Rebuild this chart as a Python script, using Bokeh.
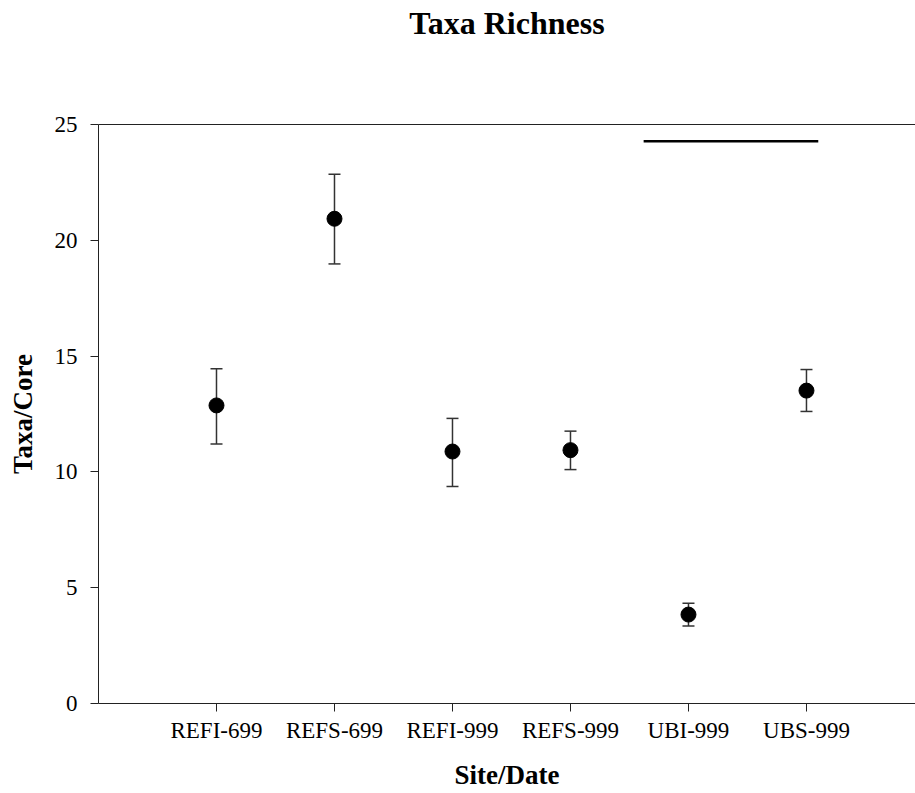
from bokeh.plotting import figure
from bokeh.models import (FixedTicker, LinearAxis, Whisker, TeeHead,
                          ColumnDataSource, Range1d)
from bokeh.embed import file_html
from bokeh.resources import INLINE

# ---- data ----
sites = ["REFI-699", "REFS-699", "REFI-999", "REFS-999", "UBI-999", "UBS-999"]
means = [12.87, 20.93, 10.88, 10.94, 3.84, 13.51]
lower = [11.21, 18.98, 9.37, 10.10, 3.35, 12.61]
upper = [14.45, 22.85, 12.31, 11.76, 4.33, 14.42]
sig_x = [4.62, 6.10]          # significance bar span (category units)
sig_y = [24.28, 24.28]        # significance bar height
y_ticks = [0, 5, 10, 15, 20, 25]
x_pos = list(range(1, len(sites) + 1))

FONT = "Liberation Serif"

src = ColumnDataSource(dict(x=x_pos, mean=means, lower=lower, upper=upper))

p = figure(frame_width=817, frame_height=579, output_backend="svg",
           toolbar_location=None,
           x_range=Range1d(0, 6.924), y_range=Range1d(0, 25),
           min_border_left=98, min_border_right=0,
           min_border_top=124, min_border_bottom=80,
           background_fill_color="white", border_fill_color="white")
p.outline_line_color = None
p.xgrid.visible = False
p.ygrid.visible = False

# x axis
xa = p.xaxis[0]
xa.ticker = FixedTicker(ticks=x_pos)
xa.major_label_overrides = {i: s for i, s in zip(x_pos, sites)}
xa.minor_tick_line_color = None
xa.major_tick_in = 0
xa.major_tick_out = 8
xa.major_label_standoff = 6
xa.major_label_text_font = FONT
xa.major_label_text_font_size = "23px"
xa.major_label_text_color = "black"
xa.axis_label = "Site/Date"
xa.axis_label_text_font = FONT
xa.axis_label_text_font_style = "bold"
xa.axis_label_text_font_size = "27px"
xa.axis_label_text_color = "black"
xa.axis_label_standoff = 14
xa.axis_line_color = "#222"
xa.major_tick_line_color = "#222"

# y axis
ya = p.yaxis[0]
ya.ticker = FixedTicker(ticks=y_ticks)
ya.minor_tick_line_color = None
ya.major_tick_in = 0
ya.major_tick_out = 8
ya.major_label_standoff = 13
ya.major_label_text_font = FONT
ya.major_label_text_font_size = "23px"
ya.major_label_text_color = "black"
ya.axis_label = "Taxa/Core"
ya.axis_label_text_font = FONT
ya.axis_label_text_font_style = "bold"
ya.axis_label_text_font_size = "27px"
ya.axis_label_text_color = "black"
ya.axis_label_standoff = 14
ya.axis_line_color = "#222"
ya.major_tick_line_color = "#222"

# top line + title as the label of an axis above
top = LinearAxis(ticker=FixedTicker(ticks=[]), axis_label="Taxa Richness")
top.axis_line_color = "#222"
top.major_tick_line_color = None
top.minor_tick_line_color = None
top.major_label_text_font_size = "0px"
top.axis_label_text_font = FONT
top.axis_label_text_font_style = "bold"
top.axis_label_text_font_size = "32px"
top.axis_label_text_color = "black"
top.axis_label_standoff = 84
p.add_layout(top, "above")

# error bars
head_kw = dict(size=12, line_color="#333", line_width=1.5)
p.add_layout(Whisker(base="x", lower="lower", upper="upper", source=src,
                     line_color="#333", line_width=1.5,
                     lower_head=TeeHead(**head_kw), upper_head=TeeHead(**head_kw)))

# means
p.scatter("x", "mean", source=src, size=15, fill_color="black", line_color="black")

# significance bar
p.line(sig_x, sig_y, line_color="black", line_width=2.5)

open("out.html", "w").write(file_html(p, INLINE))
